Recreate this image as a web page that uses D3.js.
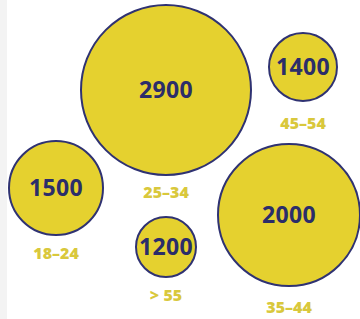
<!DOCTYPE html>
<html>
<head>
<meta charset="utf-8">
<script src="https://cdn.jsdelivr.net/npm/d3@7"></script>
<style>
  body { margin: 0; background: #fff; }
  svg { display: block; }
</style>
</head>
<body>
<script>
// age groups and counts
var ageGroups = ['25-34', '45-54', '18-24', '> 55', '35-44'];
var counts = [2900, 1400, 1500, 1200, 2000];

// where each bubble sits (layout only)
var spotX = [166, 303, 56, 166, 289];
var spotY = [90, 67, 188, 247, 215];
var labelGap = [17, 22, 18, 18, 21];

var svg = d3.select('body').append('svg')
    .attr('width', 360)
    .attr('height', 319);

svg.append('rect')
    .attr('width', 360).attr('height', 319)
    .attr('fill', '#fff');
svg.append('rect')
    .attr('width', 7).attr('height', 319)
    .attr('fill', '#f3f3f3');

// bubble size is not strictly proportional in the original; piecewise scale
var r = d3.scaleLinear()
    .domain([1200, 1400, 1500, 2000, 2900])
    .range([30, 34, 47, 71, 85]);

var data = ageGroups.map(function(g, i) {
  return {group: g, value: counts[i], x: spotX[i], y: spotY[i], gap: labelGap[i]};
});

var node = svg.selectAll('g.bubble')
    .data(data)
  .enter().append('g')
    .attr('class', 'bubble')
    .attr('transform', function(d) { return 'translate(' + d.x + ',' + d.y + ')'; });

node.append('circle')
    .attr('r', function(d) { return r(d.value); })
    .attr('fill', '#e5d12f')
    .attr('stroke', '#2f3272')
    .attr('stroke-width', 2);

node.append('text')
    .attr('text-anchor', 'middle')
    .attr('dy', '0.36em')
    .style('font-family', '"Open Sans", sans-serif')
    .style('font-weight', 700)
    .style('font-size', '23px')
    .style('letter-spacing', '0.4px')
    .attr('fill', '#2b2d6a')
    .text(function(d) { return d.value; });

node.append('text')
    .attr('text-anchor', 'middle')
    .attr('y', function(d) { return r(d.value) + d.gap; })
    .attr('dy', '0.36em')
    .style('font-family', '"Open Sans", sans-serif')
    .style('font-weight', 800)
    .style('font-size', '16px')
    .attr('fill', '#d9c83c')
    .text(function(d) { return d.group.replace('-', '–'); });
</script>
</body>
</html>
